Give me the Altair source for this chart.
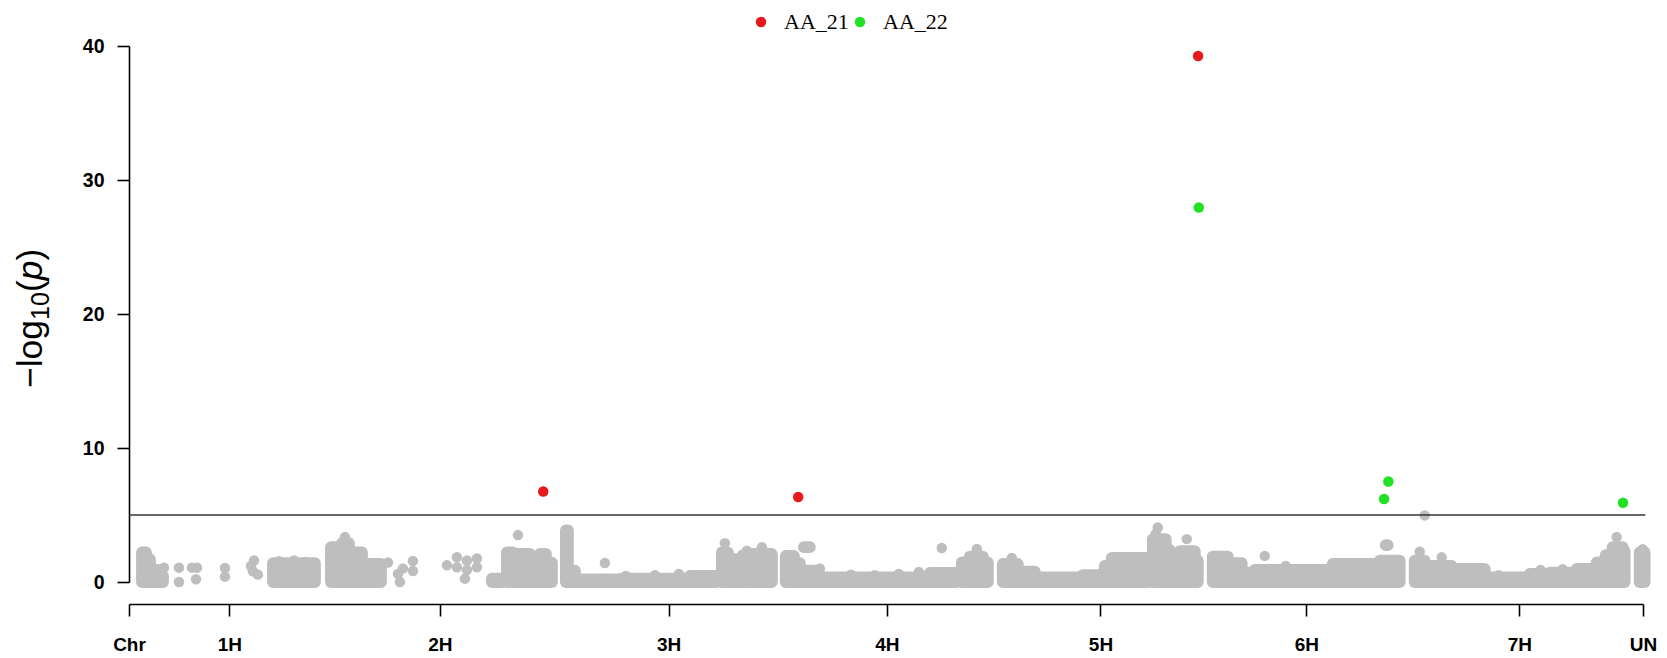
import altair as alt
import pandas as pd

# ---- axis categories (cumulative genome position, Mb) ----
chrom_names = ["Chr", "1H", "2H", "3H", "4H", "5H", "6H", "7H", "UN"]
chrom_pos = [0, 301, 933, 1619, 2274, 2915, 3533, 4172, 4543]

# ---- dense background SNP clouds: start, end, top -log10(p), lower -log10(p) ----
seg_start = [39, 51, 63, 87, 432, 606, 639, 660, 699, 1089, 1134, 1152, 1203, 1233, 1251,
             1311, 1317, 1338, 1479, 1683, 1779, 1797, 1842, 1869, 1971, 1971, 2025, 2013,
             2067, 2403, 2499, 2523, 2622, 2667, 2718, 2862, 2928, 2949, 3072, 3111, 3123,
             3153, 3198, 3252, 3297, 3339, 3378, 3612, 3771, 3753, 3858, 3888, 3969, 4068,
             4203, 4263, 4344, 4404, 4431, 4452, 4482, 4533]
seg_end = [51, 63, 87, 102, 558, 639, 660, 699, 756, 1119, 1152, 1203, 1233, 1251, 1269,
           1317, 1338, 1479, 1713, 1764, 1797, 1836, 1860, 1929, 1995, 2013, 2043, 2067,
           2403, 2484, 2577, 2562, 2667, 2718, 2862, 2928, 2949, 3060, 3111, 3123, 3153,
           3198, 3207, 3297, 3339, 3378, 3612, 3753, 3777, 3813, 3888, 3969, 4068, 4203,
           4263, 4344, 4404, 4443, 4452, 4482, 4488, 4548]
seg_top = [2.2, 1.7, 0.9, 0.45, 1.4, 2.6, 2.9, 2.2, 1.35, 0.25, 2.2, 2.1, 1.6, 2.1, 1.45,
           3.85, 0.85, 0.2, 0.25, 0.45, 2.2, 1.7, 2.0, 2.1, 1.95, 1.4, 2.6, 0.85,
           0.35, 0.67, 1.47, 1.9, 1.35, 0.77, 0.35, 0.52, 1.2, 1.8, 3.2, 2.4, 1.75,
           2.3, 1.6, 1.9, 1.4, 0.7, 0.9, 1.35, 2.75, 1.6, 1.6, 1.2, 0.97, 0.35,
           0.6, 0.7, 0.97, 1.47, 2.0, 2.6, 2.3, 2.2]
seg_base = [0, 0, 0, 0, 0, 0, 0, 0, 0, 0, 0, 0, 0, 0, 0,
            0, 0, 0, 0, 0, 0, 0, 0, 0, 0, 0, 2.6, 0,
            0, 0, 0, 0, 0, 0, 0, 0, 0, 0, 0, 0, 0,
            0, 0, 0, 0, 0, 0, 0, 2.75, 0, 0, 0, 0, 0,
            0, 0, 0, 0, 0, 0, 0, 0]

# ---- individual background SNPs ----
gray_pos = [105, 150, 150, 189, 204, 201, 288, 288, 375, 366, 372, 387,
            450, 495, 528, 648, 777, 807, 813, 822, 852, 852,
            954, 984, 984, 1014, 1014, 1008, 1044, 1044,
            1167, 1428, 1491, 1578, 1650, 1788, 1854, 1899, 2073,
            2166, 2238, 2310, 2370, 2439, 2544, 2649,
            3081, 3087, 3174, 3408, 3471, 3873, 3888, 3939, 4110, 4236, 4302,
            4464, 4542]
gray_val = [1.07, 1.07, 0.0, 1.07, 1.07, 0.2, 1.05, 0.4, 1.6, 1.2, 0.8, 0.55,
            1.55, 1.6, 1.5, 3.35, 1.45, 0.6, 0.0, 1.0, 1.57, 0.82,
            1.25, 1.85, 1.1, 1.6, 0.9, 0.25, 1.75, 1.1,
            3.5, 1.42, 0.45, 0.5, 0.6, 2.9, 2.34, 2.6, 1.0,
            0.55, 0.5, 0.6, 0.75, 2.54, 2.46, 1.8,
            3.6, 4.07, 3.2, 1.95, 1.2, 2.26, 4.97, 1.84, 0.5, 0.9, 0.95,
            3.35, 2.45]

# ---- significant SNPs ----
sig_trait = ["AA_21", "AA_21", "AA_21", "AA_22", "AA_22", "AA_22", "AA_22"]
sig_pos = [1243, 2008, 3208, 3210, 3766, 3779, 4483]
sig_val = [6.75, 6.34, 39.25, 27.95, 6.2, 7.5, 5.92]

threshold = 5
y_ticks = [0, 10, 20, 30, 40]

GRAY = "#BEBEBE"
RED = "#E8191C"
GREEN = "#22E022"

seg_df = pd.DataFrame({"start": seg_start, "end": seg_end, "top": seg_top, "base": seg_base})
gray_df = pd.DataFrame({"pos": gray_pos, "logp": gray_val})
sig_df = pd.DataFrame({"trait": sig_trait, "pos": sig_pos, "logp": sig_val})

x_scale = alt.Scale(domain=[chrom_pos[0], chrom_pos[-1]], nice=False, zero=False)
y_scale = alt.Scale(domain=[0, 40], nice=False, zero=False)

names_js = "[" + ",".join(f"'{n}'" for n in chrom_names) + "]"
pos_js = "[" + ",".join(str(p) for p in chrom_pos) + "]"
label_expr = f"{names_js}[indexof({pos_js}, datum.value)]"

x_axis = alt.Axis(values=chrom_pos, labelExpr=label_expr, title=None, grid=False, offset=22,
                  tickSize=12, tickWidth=1.6, tickColor="black", domainWidth=1.6,
                  domainColor="black", labelFont="Liberation Sans", labelFontWeight="bold",
                  labelFontSize=19, labelColor="black", labelPadding=19, labelFlush=False,
                  labelOverlap=False, labelAngle=0)
y_axis = alt.Axis(values=y_ticks, format="d", title=None, grid=False, tickSize=12,
                  tickWidth=1.6, tickColor="black", domainWidth=1.6, domainColor="black",
                  labelFont="Liberation Sans", labelFontWeight="bold", labelFontSize=19.5,
                  labelColor="black", labelPadding=13, labelFlush=False, labelOverlap=False)

clouds = alt.Chart(seg_df).mark_rect(fill=GRAY, stroke=GRAY, strokeWidth=11.8,
                                     strokeJoin="round").encode(
    x=alt.X("start:Q", scale=x_scale, axis=x_axis),
    x2="end:Q",
    y=alt.Y("top:Q", scale=y_scale, axis=y_axis),
    y2="base:Q",
)

gray_pts = alt.Chart(gray_df).mark_circle(size=110, color=GRAY, opacity=1).encode(
    x="pos:Q", y="logp:Q")

thr_line = alt.Chart(pd.DataFrame({"t": [threshold]})).mark_rule(
    color="#333333", strokeWidth=1.5).encode(
    y="t:Q", x=alt.datum(chrom_pos[0]), x2=alt.datum(chrom_pos[-1] + 7))

sig_pts = alt.Chart(sig_df).mark_circle(size=110, opacity=1).encode(
    x="pos:Q", y="logp:Q",
    color=alt.Color("trait:N",
                    scale=alt.Scale(domain=["AA_21", "AA_22"], range=[RED, GREEN]),
                    legend=alt.Legend(title=None, orient="none", legendX=621, legendY=-35,
                                      direction="horizontal", symbolType="circle",
                                      symbolSize=110, symbolStrokeWidth=0,
                                      labelFont="Liberation Serif", labelFontSize=22,
                                      labelColor="black", labelOffset=12,
                                      columnPadding=0, padding=0)),
)


def title_piece(s, x, y, size, style="normal"):
    return alt.Chart(pd.DataFrame({"t": [s]})).mark_text(
        angle=270, align="left", baseline="alphabetic", font="Liberation Sans",
        fontSize=size, fontStyle=style, color="black").encode(
        text="t:N", x=alt.value(x), y=alt.value(y))


# title "-log10(p)" built from pieces (subscript 10, italic p)
titles = [
    title_piece("\u2212log", -87, 342, 35.5),
    title_piece("10", -80, 273.9, 25),
    title_piece("(", -87, 246.1, 35.5),
    title_piece("p", -87, 234.3, 35.5, "italic"),
    title_piece(")", -87, 214.6, 35.5),
]

chart = alt.layer(clouds, gray_pts, thr_line, sig_pts, *titles).properties(
    width=1514, height=536,
    padding={"left": 129, "top": 46, "right": 24, "bottom": 76},
    autosize=alt.AutoSizeParams(type="none"),
    background="white",
).configure_view(strokeWidth=0)

chart.save("out.html", embed_options={"renderer": "svg", "actions": False})
